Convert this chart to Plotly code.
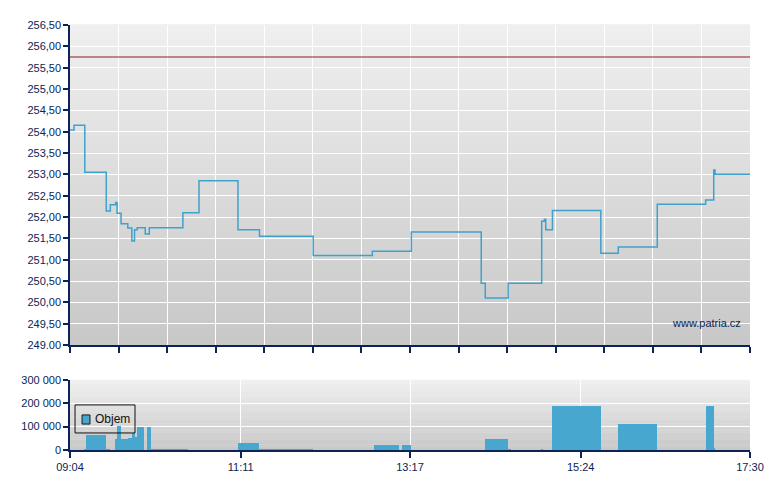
import plotly.graph_objects as go

# ---------------- data ----------------
price_times = ["09:04", "09:07", "09:15", "09:31", "09:34", "09:38", "09:39", "09:42",
               "09:47", "09:50", "09:52", "09:54", "10:00", "10:03", "10:28", "10:40",
               "11:09", "11:25", "12:05", "12:49", "13:18", "14:10", "14:13", "14:30",
               "14:55", "14:57", "14:58", "15:03", "15:39", "15:52", "16:21", "16:57",
               "17:03", "17:04", "17:30"]
prices = [254.04, 254.15, 253.05, 252.14, 252.29, 252.34, 252.09, 251.84,
          251.74, 251.44, 251.70, 251.75, 251.60, 251.75, 252.10, 252.85,
          251.70, 251.55, 251.10, 251.20, 251.65, 250.45, 250.10, 250.45,
          251.90, 251.95, 251.70, 252.15, 251.15, 251.30, 252.30, 252.40,
          253.10, 253.00, 253.00]

vol_start = ["09:15", "09:16", "09:31", "09:38", "09:39", "09:42", "09:47", "09:50",
             "09:52", "09:54", "10:01", "10:04", "11:09", "11:25", "12:50", "13:11",
             "14:13", "14:30", "14:55", "15:03", "15:52", "16:57", "17:03"]
vol_end = ["09:16", "09:31", "09:34", "09:39", "09:42", "09:47", "09:50", "09:52",
           "09:54", "09:59", "10:04", "10:32", "11:25", "12:05", "13:09", "13:18",
           "14:30", "14:32", "14:56", "15:39", "16:21", "17:03", "17:04"]
volumes = [3000, 64000, 4000, 48000, 103000, 49000, 52000, 75000,
           57000, 100000, 100000, 3000, 31000, 2000, 21000, 21000,
           47000, 3000, 3000, 190000, 112000, 190000, 8000]

prev_close = 255.75

session_start = "09:04"
session_end = "17:30"
time_tick_labels = ["09:04", "11:11", "13:17", "15:24", "17:30"]
price_tick_values = [249.0, 249.5, 250.0, 250.5, 251.0, 251.5, 252.0, 252.5,
                     253.0, 253.5, 254.0, 254.5, 255.0, 255.5, 256.0, 256.5]
price_tick_labels = ["249.00", "249,50", "250,00", "250,50", "251,00", "251,50",
                     "252,00", "252,50", "253,00", "253,50", "254,00", "254,50",
                     "255,00", "255,50", "256,00", "256,50"]
vol_tick_values = [0, 100000, 200000, 300000]
vol_tick_labels = ["0", "100 000", "200 000", "300 000"]
legend_label = "Objem"
watermark = "www.patria.cz"


def to_min(s):
    h, m = s.split(":")
    return int(h) * 60 + int(m)


t0, t1 = to_min(session_start), to_min(session_end)
px_times = [to_min(t) for t in price_times]
vs = [to_min(t) for t in vol_start]
vw = [to_min(e) - to_min(s) for s, e in zip(vol_start, vol_end)]

NAVY = "#0b2455"
LINE = "#3fa2cd"
BAR = "#47a7cf"
FONT = "Arial, Liberation Sans, sans-serif"

fig = go.Figure()

fig.add_trace(go.Scatter(x=px_times, y=prices, mode="lines",
                         line=dict(color=LINE, width=1.5, shape="hv"),
                         xaxis="x", yaxis="y", showlegend=False, hoverinfo="skip"))

fig.add_trace(go.Bar(x=vs, y=volumes, width=vw, offset=0,
                     marker=dict(color=BAR, line=dict(width=0)),
                     xaxis="x2", yaxis="y2", showlegend=False, name=legend_label))

# gradient backgrounds
shapes = []
N = 40


def lerp(a, b, f):
    return int(round(a + (b - a) * f))


for axref, c_top, c_bot in (("", 0xEF, 0xC8), ("2", 0xEF, 0xC8)):
    for i in range(N):
        f = (i + 0.5) / N
        c = lerp(c_top, c_bot, f)
        col = f"rgb({c},{c},{c})"
        shapes.append(dict(type="rect", xref=f"x{axref} domain", yref=f"y{axref} domain",
                           x0=0, x1=1, y0=1 - (i + 1) / N, y1=1 - i / N + 0.002,
                           fillcolor=col, line=dict(width=0), layer="below"))

# previous close line
shapes.append(dict(type="line", xref="x domain", yref="y", x0=0, x1=1,
                   y0=prev_close, y1=prev_close,
                   line=dict(color="#8a1e1a", width=1), layer="above"))

# legend box (drawn in volume panel)
shapes.append(dict(type="rect", xref="x2 domain", yref="y2 domain",
                   x0=0.0074, x1=0.0956, y0=0.243, y1=0.643,
                   line=dict(color="#111111", width=1), fillcolor="rgba(0,0,0,0)",
                   layer="above"))
shapes.append(dict(type="rect", xref="x2 domain", yref="y2 domain",
                   x0=0.0177, x1=0.0294, y0=0.37, y1=0.50,
                   line=dict(color="#1a1a1a", width=1), fillcolor=BAR,
                   layer="above"))

main_ticks = [t0 + (t1 - t0) * i / 14 for i in range(15)]
vol_ticks = [to_min(t) for t in time_tick_labels]

axis_common = dict(showline=True, linecolor=NAVY, linewidth=1.5, ticks="outside",
                   tickcolor=NAVY, ticklen=5, tickwidth=1.5,
                   gridcolor="white", gridwidth=1.2, zeroline=False,
                   tickfont=dict(family=FONT, size=11, color=NAVY))

fig.update_layout(
    width=772, height=482,
    margin=dict(l=62, r=30, t=17, b=40),
    paper_bgcolor="white", plot_bgcolor="rgba(0,0,0,0)",
    font=dict(family=FONT, size=11, color=NAVY),
    shapes=shapes,
    showlegend=False,
    xaxis=dict(axis_common, domain=[0, 1], anchor="y", range=[t0, t1],
               tickvals=main_ticks, showticklabels=False, ticklen=6),
    yaxis=dict(axis_common, domain=[0.247, 1], anchor="x", range=[249, 256.5],
               tickvals=price_tick_values, ticktext=price_tick_labels),
    xaxis2=dict(axis_common, domain=[0, 1], anchor="y2", range=[t0, t1],
                tickvals=vol_ticks, ticktext=time_tick_labels, ticklen=6),
    yaxis2=dict(axis_common, domain=[0, 0.165], anchor="x2", range=[0, 300000],
                tickvals=vol_tick_values, ticktext=vol_tick_labels),
    annotations=[
        dict(text=watermark, xref="x domain", yref="y domain",
             x=0.99, y=0.07, xanchor="right", yanchor="middle",
             showarrow=False, font=dict(family=FONT, size=11, color=NAVY)),
        dict(text=legend_label, xref="x2 domain", yref="y2 domain",
             x=0.034, y=0.44, xanchor="left", yanchor="middle",
             showarrow=False, font=dict(family=FONT, size=12, color="#111111")),
    ],
    bargap=0,
)

fig.write_html("out.html")
